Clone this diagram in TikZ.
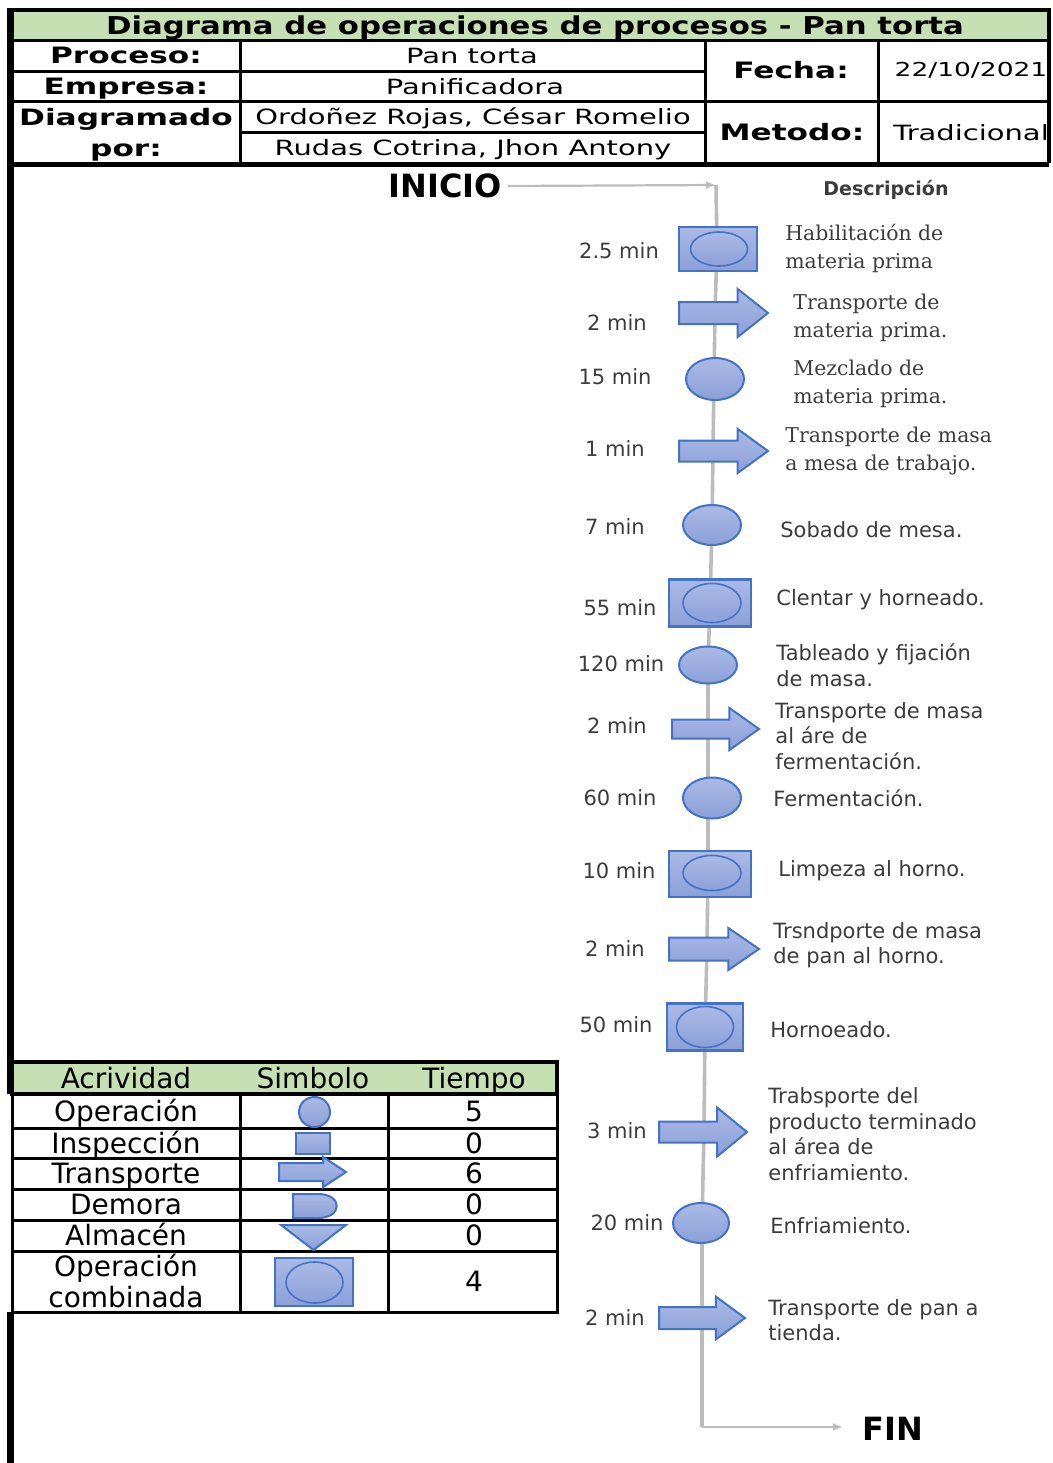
\documentclass[tikz,border=0pt]{standalone}
\usepackage{fontspec}
\setmainfont{DejaVu Sans}
\newfontfamily\descserif{DejaVu Serif}
\newfontfamily\titlefont{DejaVu Sans}[FakeStretch=1.25]
\newfontfamily\labelfont{DejaVu Sans}[FakeStretch=1.38]
\newfontfamily\valuefont{DejaVu Sans}[FakeStretch=1.38]
\usetikzlibrary{shapes.geometric,arrows.meta}

\definecolor{hdrgreen}{RGB}{198,224,180}
\definecolor{symedge}{RGB}{68,114,196}
\definecolor{symtop}{RGB}{170,186,230}
\definecolor{symbot}{RGB}{140,160,216}
\definecolor{flow}{RGB}{188,188,188}
\definecolor{txtgray}{RGB}{60,60,60}

\tikzset{
  sym/.style={draw=symedge, line width=1pt, top color=symtop, bottom color=symbot},
  opcirc/.style={sym, ellipse, inner sep=0pt},
  combo/.style={sym, rectangle, inner sep=0pt, line width=1.3pt},
  comboin/.style={sym, ellipse, inner sep=0pt, line width=0.8pt},
  flowline/.style={draw=flow, line width=1.8pt},
  thinflow/.style={draw=flow, line width=1.1pt, -{Latex[length=5pt,width=4pt]}},
  tlabel/.style={font=\fontsize{10.5}{12.5}\selectfont, text=txtgray, inner sep=0pt},
  dsans/.style={font=\fontsize{10.5}{12.8}\selectfont, text=txtgray, anchor=west, align=left, inner sep=0pt},
  dserif/.style={font=\descserif\fontsize{10.2}{14}\selectfont, text=txtgray, anchor=west, align=left, inner sep=0pt},
  hlabel/.style={font=\labelfont\bfseries\fontsize{11.3}{12}\selectfont, inner sep=0pt, anchor=base},
  hvalue/.style={font=\valuefont\fontsize{10.5}{12}\selectfont, inner sep=0pt, anchor=base},
  lgtext/.style={font=\fontsize{14}{15.5}\selectfont, inner sep=0pt, anchor=base},
  lgtwo/.style={font=\fontsize{14}{15.5}\selectfont, inner sep=0pt, align=center},
  grid/.style={line width=1.5pt},
  heavy/.style={line width=2.5pt},
  endword/.style={font=\bfseries\fontsize{16}{18}\selectfont, inner sep=0pt},
}

% block arrow: name, left x, centre y, length, half height, shaft half height
\newcommand\blockarrow[6]{%
  \pgfmathsetmacro\baA{#4*0.66}\pgfmathsetmacro\baH{#4-\baA}\pgfmathsetmacro\baD{#5-#6}%
  \path[sym] (#2,#3) coordinate (#1) ++(0,-#6) -- ++(\baA,0) -- ++(0,-\baD)
    -- ++(\baH,#5) -- ++(-\baH,#5) -- ++(0,-\baD) -- ++(-\baA,0) -- cycle;}

\begin{document}
\begin{tikzpicture}[x=0.5pt, y=-0.5pt]
\useasboundingbox (0,0) rectangle (1053,1463);

% ---------- header block ----------
\fill[hdrgreen] (10,10) rectangle (1049,40);
\draw[grid] (10,40) -- (1049,40);
\draw[grid] (10,71) -- (705,71);
\draw[grid] (10,101) -- (1049,101);
\draw[grid] (240,132) -- (705,132);
\draw[grid] (240,40) -- (240,163);
\draw[grid] (705,40) -- (705,163);
\draw[grid] (878,40) -- (878,163);
\draw[line width=2pt] (10,10) -- (1049,10) -- (1049,163);
\draw[heavy] (10,164) -- (1049,164);

\node[font=\titlefont\bfseries\fontsize{12.3}{14}\selectfont, inner sep=0pt, anchor=base] (title) at (535,34)
  {Diagrama de operaciones de procesos - Pan torta};
\node[hlabel] (lproc) at (126,63) {Proceso:};
\node[hlabel] (lemp) at (126,94) {Empresa:};
\node[hlabel] (ldiag) at (126,125) {Diagramado};
\node[hlabel] (lpor) at (126,156) {por:};
\node[hlabel] (lfecha) at (791,78) {Fecha:};
\node[hlabel] (lmet) at (792,140) {Metodo:};
\node[hvalue] (vproc) at (472,63.5) {Pan torta};
\node[hvalue] (vemp) at (475,94.5) {Panificadora};
\node[hvalue] (vaut1) at (473,124.5) {Ordoñez Rojas, César Romelio};
\node[hvalue] (vaut2) at (473,155.5) {Rudas Cotrina, Jhon Antony};
\node[hvalue, font=\valuefont\fontsize{9.6}{12}\selectfont] (vfecha) at (971,76.5) {22/10/2021};
\node[hvalue] (vmet) at (971,140.5) {Tradicional};

% left frame line of the body
\draw[line width=3.5pt] (10,8) -- (10,1094);
\draw[line width=3.5pt] (10,1312) -- (10,1463);

% ---------- flow line ----------
\coordinate (top) at (716,185);
\coordinate (p1) at (717,249);
\coordinate (p2) at (715,313);
\coordinate (p3) at (714,379);
\coordinate (p4) at (713,451);
\coordinate (p5) at (712,525);
\coordinate (p6) at (710,603);
\coordinate (p7) at (708,665);
\coordinate (p8) at (708,729);
\coordinate (p9) at (708,798);
\coordinate (p10) at (708,874);
\coordinate (p11) at (707,949);
\coordinate (p12) at (705,1027);
\coordinate (p13) at (704,1132);
\coordinate (p14) at (702,1223);
\coordinate (p15) at (702,1318);
\coordinate (bot) at (702,1427);
\coordinate (fintip) at (843,1427);

\node[endword] (inicio) at (445,186) {INICIO};
\node[endword] (fin) at (893,1429) {FIN};
\draw[thinflow] (inicio.east) ++(6,0) coordinate (istart) -- (top);
\draw[flowline] (top) -- (p1) -- (p2) -- (p3) -- (p4) -- (p5) -- (p6) -- (p7) -- (p8)
  -- (p9) -- (p10) -- (p11) -- (p12) -- (p13) -- (p14) -- (p15) -- (bot);
\draw[thinflow] (bot) -- (fintip);

\node[font=\bfseries\fontsize{9.5}{11}\selectfont, text=txtgray, inner sep=0pt] (desc) at (886,190) {Descripción};

% ---------- process symbols ----------
\node[combo, minimum width=39pt, minimum height=22pt] (s1) at (718,249) {};
\node[comboin, minimum width=28.5pt, minimum height=17pt] (s1e) at (719,249) {};
\blockarrow{s2}{679}{313}{89}{24}{11}
\node[opcirc, minimum width=29pt, minimum height=21pt] (s3) at (715,379) {};
\blockarrow{s4}{679}{451}{89}{22}{10.5}
\node[opcirc, minimum width=29pt, minimum height=20pt] (s5) at (712,525) {};
\node[combo, minimum width=41pt, minimum height=23.5pt] (s6) at (710,603) {};
\node[comboin, minimum width=29pt, minimum height=19.5pt] (s6e) at (712,603) {};
\node[opcirc, minimum width=29pt, minimum height=18.5pt] (s7) at (708,665) {};
\blockarrow{s8}{672}{729}{87}{21}{9.5}
\node[opcirc, minimum width=29pt, minimum height=20.5pt] (s9) at (712,798) {};
\node[combo, minimum width=41pt, minimum height=23pt] (s10) at (710,874) {};
\node[comboin, minimum width=29pt, minimum height=17.5pt] (s10e) at (712,873) {};
\blockarrow{s11}{669}{949}{90}{21}{11.5}
\node[combo, minimum width=38pt, minimum height=23.5pt] (s12) at (705,1027) {};
\node[comboin, minimum width=28.5pt, minimum height=20.5pt] (s12e) at (705,1027) {};
\blockarrow{s13}{659}{1132}{88}{24.5}{10.5}
\node[opcirc, minimum width=28pt, minimum height=20pt] (s14) at (701,1223) {};
\blockarrow{s15}{659}{1318}{86}{21.5}{11}

% ---------- times ----------
\node[tlabel] (t1) at (619,251) {2.5 min};
\node[tlabel] (t2) at (617,323) {2 min};
\node[tlabel] (t3) at (615,377) {15 min};
\node[tlabel] (t4) at (615,449) {1 min};
\node[tlabel] (t5) at (615,527) {7 min};
\node[tlabel] (t6) at (620,608) {55 min};
\node[tlabel] (t7) at (621,664) {120 min};
\node[tlabel] (t8) at (617,726) {2 min};
\node[tlabel] (t9) at (620,798) {60 min};
\node[tlabel] (t10) at (619,871) {10 min};
\node[tlabel] (t11) at (615,949) {2 min};
\node[tlabel] (t12) at (616,1025) {50 min};
\node[tlabel] (t13) at (617,1131) {3 min};
\node[tlabel] (t14) at (627,1223) {20 min};
\node[tlabel] (t15) at (615,1318) {2 min};

% ---------- descriptions ----------
\node[dserif] (d1) at (785,248) {Habilitación de\\materia prima};
\node[dserif] (d2) at (793,318) {Transporte de\\materia prima.};
\node[dserif] (d3) at (793,384) {Mezclado de\\materia prima.};
\node[dserif] (d4) at (785,451) {Transporte de masa\\a mesa de trabajo.};
\node[dsans] (d5) at (780,530) {Sobado de mesa.};
\node[dsans] (d6) at (776,600) {Clentar y horneado.};
\node[dsans] (d7) at (776,665) {Tableado y fijación\\de masa.};
\node[dsans] (d8) at (775,736) {Transporte de masa\\al áre de\\fermentación.};
\node[dsans] (d9) at (773,798) {Fermentación.};
\node[dsans] (d10) at (778,871) {Limpeza al horno.};
\node[dsans] (d11) at (773,945) {Trsndporte de masa\\de pan al horno.};
\node[dsans] (d12) at (770,1030) {Hornoeado.};
\node[dsans] (d13) at (768,1134) {Trabsporte del\\producto terminado\\al área de\\enfriamiento.};
\node[dsans] (d14) at (770,1226) {Enfriamiento.};
\node[dsans] (d15) at (768,1320) {Transporte de pan a\\tienda.};

% ---------- legend table ----------
\fill[white] (12,1062) rectangle (557,1312);
\fill[hdrgreen] (12,1062) rectangle (557,1094);
\foreach \yy in {1128,1158,1189,1220,1251}
  \draw[grid] (12,\yy) -- (557,\yy);
\draw[grid] (240,1094) -- (240,1312);
\draw[grid] (388,1094) -- (388,1312);
\draw[grid] (12,1094) rectangle (557,1312);
\draw[line width=2.2pt] (12,1062) rectangle (557,1094);

\node[lgtext] (hact) at (126,1088) {Acrividad};
\node[lgtext] (hsym) at (313,1088) {Simbolo};
\node[lgtext] (htime) at (474,1088) {Tiempo};
\node[lgtext] (rop) at (126,1121) {Operación};
\node[lgtext] (rins) at (126,1153) {Inspección};
\node[lgtext] (rtra) at (126,1183) {Transporte};
\node[lgtext] (rdem) at (126,1214) {Demora};
\node[lgtext] (ralm) at (126,1245) {Almacén};
\node[lgtwo] (rcomb) at (126,1281) {Operación\\combinada};
\node[lgtext] (nop) at (474,1121) {5};
\node[lgtext] (nins) at (474,1153) {0};
\node[lgtext] (ntra) at (474,1183) {6};
\node[lgtext] (ndem) at (474,1214) {0};
\node[lgtext] (nalm) at (474,1245) {0};
\node[lgtext] (ncomb) at (474,1291) {4};

\node[opcirc, minimum width=15.5pt, minimum height=15pt] (gop) at (314.5,1112) {};
\node[sym, rectangle, inner sep=0pt, minimum width=17pt, minimum height=10.5pt] (gins) at (313,1143.5) {};
\blockarrow{gtra}{279}{1172}{67}{15}{9}
\path[sym] (293,1194) coordinate (gdem) -- (318,1194) .. controls (343,1194) and (343,1218) .. (318,1218) -- (293,1218) -- cycle;
\path[sym] (281,1225) coordinate (galm) -- (346,1225) -- (313.5,1250) -- cycle;
\node[combo, minimum width=39pt, minimum height=24pt] (gcomb) at (314,1282) {};
\node[comboin, minimum width=28.5pt, minimum height=20.5pt] (gcombe) at (314.5,1282.5) {};
\end{tikzpicture}
\end{document}
